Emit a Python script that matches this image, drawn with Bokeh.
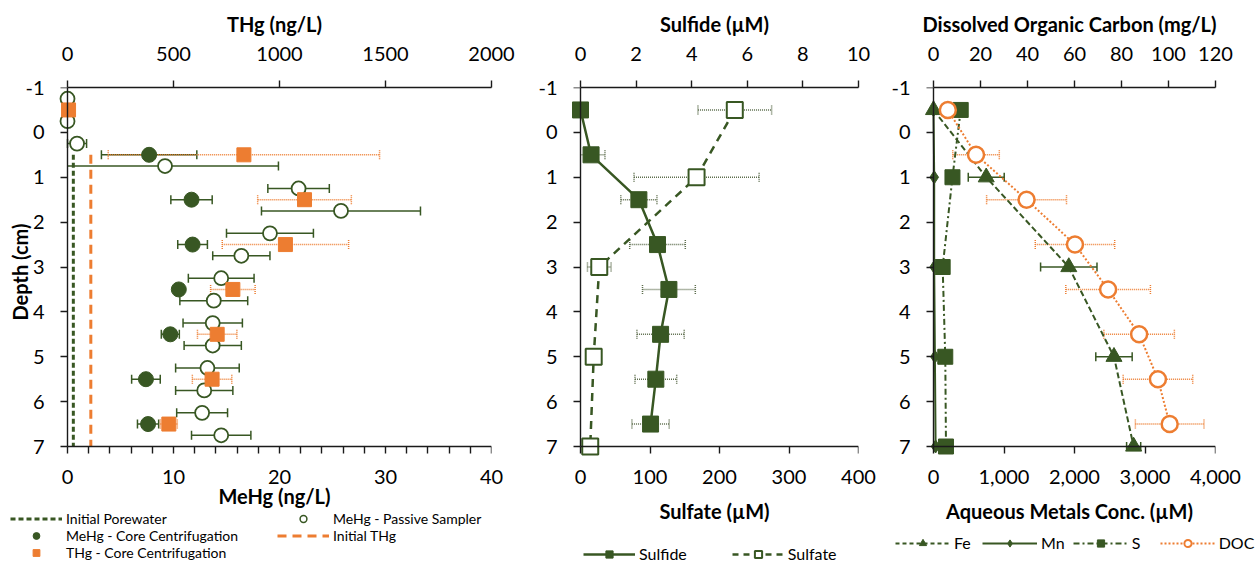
from bokeh.plotting import figure
from bokeh.models import (Range1d, LinearAxis, Whisker, ColumnDataSource, Legend, LegendItem,
                          FixedTicker, NumeralTickFormatter, TeeHead)
from bokeh.layouts import row, column
from bokeh.embed import file_html
from bokeh.resources import INLINE

# ---------------- data ----------------
depth_ticks = [-1, 0, 1, 2, 3, 4, 5, 6, 7]

# Panel 1: mercury
mehg_ticks = [0, 10, 20, 30, 40]
mehg_minor = [2, 4, 6, 8, 12, 14, 16, 18, 22, 24, 26, 28, 32, 34, 36, 38]
thg_ticks = [0, 500, 1000, 1500, 2000]

passive_depth = [-0.75, -0.25, 0.25, 0.75, 1.25, 1.75, 2.25, 2.75, 3.25, 3.75, 4.25, 4.75, 5.25, 5.75, 6.25, 6.75]
passive_mehg = [0.0, 0.0, 0.9, 9.2, 21.8, 25.8, 19.1, 16.4, 14.5, 13.8, 13.7, 13.7, 13.2, 12.9, 12.7, 14.5]
passive_err = [0.0, 0.0, 0.9, 10.7, 2.9, 7.5, 4.1, 2.7, 3.1, 3.2, 2.8, 2.7, 3.0, 2.7, 2.4, 2.8]

core_depth = [0.5, 1.5, 2.5, 3.5, 4.5, 5.5, 6.5]
core_mehg = [7.7, 11.7, 11.8, 10.5, 9.7, 7.4, 7.6]
core_mehg_err = [4.5, 1.95, 1.4, 0.3, 0.85, 1.35, 1.0]

thg_depth = [-0.5, 0.5, 1.5, 2.5, 3.5, 4.5, 5.5, 6.5]
thg_core = [5, 832, 1118, 1028, 780, 706, 682, 478]
thg_err = [0, 640, 221, 298, 105, 93, 93, 40]

initial_depth = [0.5, 7.0]
initial_porewater_mehg = 0.55
initial_thg = 110

# Panel 2: sulfur species
sulfide_ticks = [0, 2, 4, 6, 8, 10]
sulfate_ticks = [0, 100, 200, 300, 400]
sulfide_depth = [-0.5, 0.5, 1.5, 2.5, 3.5, 4.5, 5.5, 6.5]
sulfide = [0.0, 0.38, 2.1, 2.77, 3.18, 2.88, 2.71, 2.52]
sulfide_err = [0.0, 0.5, 0.65, 1.0, 0.95, 0.85, 0.75, 0.67]
sulfate_depth = [-0.5, 1.0, 3.0, 5.0, 7.0]
sulfate = [222, 167, 27, 19, 14]
sulfate_err = [53, 90, 17, 0, 0]

# Panel 3: metals and DOC
metal_ticks = [0, 1000, 2000, 3000, 4000]
doc_ticks = [0, 20, 40, 60, 80, 100, 120]
metal_depth = [-0.5, 1.0, 3.0, 5.0, 7.0]
fe = [0, 748, 1919, 2560, 2839]
fe_err = [0, 255, 400, 258, 100]
mn = [0, 10, 10, 20, 30]
s_conc = [386, 269, 130, 167, 177]
doc_depth = [-0.5, 0.5, 1.5, 2.5, 3.5, 4.5, 5.5, 6.5]
doc = [6.1, 18.1, 39.6, 60.2, 74.3, 87.5, 95.5, 100.5]
doc_err = [0, 9.9, 17.0, 16.9, 18.0, 15.0, 14.8, 14.6]

# ---------------- style ----------------
FONT = "Lato"
GREEN = "#385723"
ORANGE = "#ED7D31"
EBAR = "#5E6E4E"
AX = "#1a1a1a"
PAD = 10          # px of frame outside the axes so edge markers are not clipped
AXIS_H = 359      # px from depth -1 to depth 7


def line_axis(ax):
    ax.axis_line_color = AX
    ax.axis_line_width = 1.4
    ax.major_tick_line_color = AX
    ax.major_tick_line_width = 1.4
    ax.major_tick_out = 7
    ax.major_tick_in = 0
    ax.minor_tick_line_color = None
    ax.major_label_text_color = None


def label_axis(ax, label_standoff, title=None, title_standoff=0, with_line=False):
    if with_line:
        ax.axis_line_color = AX
        ax.axis_line_width = 1.4
        ax.major_tick_line_color = AX
        ax.major_tick_line_width = 1.4
        ax.major_tick_out = 7
    else:
        ax.axis_line_color = None
        ax.major_tick_line_color = None
        ax.major_tick_out = 0
    ax.major_tick_in = 0
    ax.minor_tick_line_color = None
    ax.minor_tick_out = 0
    ax.minor_tick_in = 0
    ax.major_label_text_font = FONT
    ax.major_label_text_font_size = "20px"
    ax.major_label_text_color = "#000000"
    ax.major_label_standoff = label_standoff
    if title:
        ax.axis_label = title
        ax.axis_label_text_font = FONT
        ax.axis_label_text_font_size = "20px"
        ax.axis_label_text_font_style = "bold"
        ax.axis_label_text_color = "#000000"
        ax.axis_label_standoff = title_standoff


def make_panel(ml, mr, axis_w, x_end, top_name, top_end):
    dx = x_end * PAD / axis_w
    dxt = top_end * PAD / axis_w
    p = figure(frame_width=axis_w + PAD, frame_height=AXIS_H + PAD,
               x_range=Range1d(-dx, x_end), y_range=Range1d(7 + 8 * PAD / AXIS_H, -1),
               x_axis_location=None, y_axis_location=None,
               output_backend="svg", toolbar_location=None,
               min_border_left=ml, min_border_right=mr, min_border_top=87, min_border_bottom=0)
    p.extra_x_ranges = {top_name: Range1d(-dxt, top_end)}
    p.outline_line_color = None
    p.grid.visible = False
    p.background_fill_color = "white"
    p.border_fill_color = "white"
    return p


def add_axes(p, x_end, bottom_ticks, bottom_title, top_name, top_end, top_ticks, top_title,
             y_title=None, minor=None, fmt=None, bottom_title_standoff=12):
    # drawn axis lines + ticks at x=0 and depth=7
    bl = LinearAxis(ticker=FixedTicker(ticks=bottom_ticks, minor_ticks=minor or []),
                    fixed_location=7, bounds=(0, x_end))
    line_axis(bl)
    if minor:
        bl.minor_tick_line_color = AX
        bl.minor_tick_line_width = 1.4
        bl.minor_tick_out = 7
        bl.minor_tick_in = 0
    p.add_layout(bl, "below")
    ll = LinearAxis(ticker=FixedTicker(ticks=depth_ticks), fixed_location=0, bounds=(-1, 7))
    line_axis(ll)
    p.add_layout(ll, "left")
    # tick labels + titles
    b = LinearAxis(ticker=FixedTicker(ticks=bottom_ticks))
    label_axis(b, 13, bottom_title, bottom_title_standoff)
    if fmt:
        b.formatter = NumeralTickFormatter(format=fmt)
    p.add_layout(b, "below")
    t = LinearAxis(x_range_name=top_name, ticker=FixedTicker(ticks=top_ticks), bounds=(0, top_end))
    label_axis(t, 20, top_title, 8, with_line=True)
    p.add_layout(t, "above")
    l = LinearAxis(ticker=FixedTicker(ticks=depth_ticks))
    label_axis(l, 13, y_title, -10)
    l.major_label_overrides = {d: str(d) for d in depth_ticks}
    p.add_layout(l, "left")


def add_whisker(p, base, vals, errs, color, dash="solid", width=1.5, range_name="default", head=9):
    groups = {True: ([], [], []), False: ([], [], [])}
    for d, v, e in zip(base, vals, errs):
        if e <= 0:
            continue
        full = (v - e) >= 0
        g = groups[full]
        g[0].append(d)
        g[1].append(max(0.0, v - e))
        g[2].append(v + e)
    for full, (bb, lo, up) in groups.items():
        if not bb:
            continue
        src = ColumnDataSource(dict(base=bb, lower=lo, upper=up))
        w = Whisker(source=src, base="base", lower="lower", upper="upper", dimension="width",
                    level="underlay", line_color=color, line_width=width, line_dash=dash,
                    x_range_name=range_name)
        w.upper_head = TeeHead(size=head, line_color=color, line_width=width, line_dash=dash)
        w.lower_head = TeeHead(size=head, line_color=color, line_width=width, line_dash=dash) if full else None
        p.add_layout(w)


def legend_fig(width, height, left, top):
    # a strip that only holds a legend; its data ranges keep the key glyphs' data out of view
    f = figure(width=width, height=height, x_range=Range1d(-1e6, -1e6 + 1), y_range=Range1d(-1e6, -1e6 + 1),
               x_axis_location=None, y_axis_location=None, output_backend="svg",
               toolbar_location=None, min_border_left=left, min_border_top=top,
               min_border_right=0, min_border_bottom=0)
    f.outline_line_color = None
    f.grid.visible = False
    return f


def make_legend(items, font="16px", row_h=18, ncols=None, glyph_w=52, standoff=4, spacing=10,
                label_w=20):
    kw = dict(items=items, location="top_left", orientation="horizontal",
              background_fill_alpha=0, border_line_color=None, padding=0, margin=0,
              spacing=spacing, label_text_font=FONT, label_text_font_size=font,
              label_text_color="#000000", glyph_width=glyph_w, glyph_height=row_h,
              label_height=row_h, label_standoff=standoff, label_width=label_w)
    if ncols:
        kw["ncols"] = ncols
    return Legend(**kw)


# ---------------- panel 1 ----------------
p1 = make_panel(57, 34, 424, 40, "thg", 2000)
add_axes(p1, 40, mehg_ticks, "MeHg (ng/L)", "thg", 2000, thg_ticks, "THg (ng/L)",
         y_title="Depth (cm)", minor=mehg_minor, bottom_title_standoff=-3)

add_whisker(p1, passive_depth, passive_mehg, passive_err, GREEN, width=1.5)
add_whisker(p1, core_depth, core_mehg, core_mehg_err, GREEN, width=1.5)
add_whisker(p1, thg_depth, thg_core, thg_err, ORANGE, dash="1 1", width=1.5, range_name="thg")

p1.line(x=[initial_porewater_mehg] * len(initial_depth), y=initial_depth,
        line_color=GREEN, line_width=3, line_dash="5 3")
p1.line(x=[initial_thg] * len(initial_depth), y=initial_depth, x_range_name="thg",
        line_color=ORANGE, line_width=3, line_dash="9 6")
p1.scatter(x=passive_mehg, y=passive_depth, marker="circle", size=14,
           fill_color="white", line_color=GREEN, line_width=1.8)
p1.scatter(x=core_mehg, y=core_depth, marker="circle", size=15, fill_color=GREEN, line_color=GREEN)
p1.scatter(x=thg_core, y=thg_depth, marker="square", size=14, x_range_name="thg",
           fill_color=ORANGE, line_color=ORANGE)

lf1 = legend_fig(525, 52, 10, 0)
k_ip = lf1.line(x=[initial_porewater_mehg] * len(initial_depth), y=initial_depth,
                line_color=GREEN, line_width=3, line_dash="5 3")
k_pass = lf1.scatter(x=passive_mehg, y=passive_depth, marker="circle", fill_color="white",
                     line_color=GREEN, line_width=1.5)
k_core = lf1.scatter(x=core_mehg, y=core_depth, marker="circle", fill_color=GREEN, line_color=GREEN)
k_ithg = lf1.line(x=[initial_thg] * len(initial_depth), y=initial_depth,
                  line_color=ORANGE, line_width=3, line_dash="9 6")
k_thg = lf1.scatter(x=thg_core, y=thg_depth, marker="square", fill_color=ORANGE, line_color=ORANGE)
lf1.add_layout(make_legend([LegendItem(label="Initial Porewater", renderers=[k_ip]),
                            LegendItem(label="MeHg - Passive Sampler", renderers=[k_pass]),
                            LegendItem(label="MeHg - Core Centrifugation", renderers=[k_core]),
                            LegendItem(label="Initial THg", renderers=[k_ithg]),
                            LegendItem(label="THg - Core Centrifugation", renderers=[k_thg])],
                           font="14px", row_h=17, ncols=2, glyph_w=52, spacing=0, label_w=211))

# ---------------- panel 2 ----------------
p2 = make_panel(45, 30, 278, 400, "sulfide", 10)
add_axes(p2, 400, sulfate_ticks, "Sulfate (\u00b5M)", "sulfide", 10, sulfide_ticks, "Sulfide (\u00b5M)")

add_whisker(p2, sulfide_depth, sulfide, sulfide_err, EBAR, dash="1 1", width=1.5, range_name="sulfide")
add_whisker(p2, sulfate_depth, sulfate, sulfate_err, EBAR, dash="1 1", width=1.5)

p2.line(x=sulfide, y=sulfide_depth, x_range_name="sulfide", line_color=GREEN, line_width=2.5)
p2.scatter(x=sulfide, y=sulfide_depth, x_range_name="sulfide", marker="square", size=16,
           fill_color=GREEN, line_color=GREEN)
p2.line(x=sulfate, y=sulfate_depth, line_color=GREEN, line_width=2.5, line_dash="8 6")
p2.scatter(x=sulfate, y=sulfate_depth, marker="square", size=16,
           fill_color="white", line_color=GREEN, line_width=2)

lf2 = legend_fig(363, 37, 58, 19)
k_sfd_l = lf2.line(x=sulfide, y=sulfide_depth, line_color=GREEN, line_width=2.5)
k_sfd_s = lf2.scatter(x=sulfide, y=sulfide_depth, marker="square", fill_color=GREEN, line_color=GREEN)
k_sft_l = lf2.line(x=sulfate, y=sulfate_depth, line_color=GREEN, line_width=2.5, line_dash="6 5")
k_sft_s = lf2.scatter(x=sulfate, y=sulfate_depth, marker="square", fill_color="white",
                      line_color=GREEN, line_width=2)
lf2.add_layout(make_legend([LegendItem(label="Sulfide", renderers=[k_sfd_l, k_sfd_s]),
                            LegendItem(label="Sulfate", renderers=[k_sft_l, k_sft_s])],
                           glyph_w=52, standoff=4, spacing=45))

# ---------------- panel 3 ----------------
p3 = make_panel(34, 44, 282, 4000, "doc", 120)
add_axes(p3, 4000, metal_ticks, "Aqueous Metals Conc. (\u00b5M)", "doc", 120, doc_ticks,
         "Dissolved Organic Carbon (mg/L)", fmt="0,0")

add_whisker(p3, metal_depth, fe, fe_err, GREEN, width=1.5)
add_whisker(p3, doc_depth, doc, doc_err, ORANGE, dash="1 1", width=1.5, range_name="doc")

p3.line(x=fe, y=metal_depth, line_color=GREEN, line_width=2, line_dash="6 3")
p3.scatter(x=fe, y=metal_depth, marker="triangle", size=16, fill_color=GREEN, line_color=GREEN)
p3.line(x=mn, y=metal_depth, line_color=GREEN, line_width=2)
p3.scatter(x=mn, y=metal_depth, marker="diamond", size=13, fill_color=GREEN, line_color=GREEN)
p3.line(x=s_conc, y=metal_depth, line_color=GREEN, line_width=2, line_dash="6 3 2 3")
p3.scatter(x=s_conc, y=metal_depth, marker="square", size=15, fill_color=GREEN, line_color=GREEN)
p3.line(x=doc, y=doc_depth, x_range_name="doc", line_color=ORANGE, line_width=2, line_dash="2 2")
p3.scatter(x=doc, y=doc_depth, x_range_name="doc", marker="circle", size=16,
           fill_color="white", line_color=ORANGE, line_width=2.5)

lf3 = legend_fig(370, 37, 7, 8)
k_fe_l = lf3.line(x=fe, y=metal_depth, line_color=GREEN, line_width=2, line_dash="4 3")
k_fe_s = lf3.scatter(x=fe, y=metal_depth, marker="triangle", fill_color=GREEN, line_color=GREEN)
k_mn_l = lf3.line(x=mn, y=metal_depth, line_color=GREEN, line_width=2)
k_mn_s = lf3.scatter(x=mn, y=metal_depth, marker="diamond", fill_color=GREEN, line_color=GREEN)
k_s_l = lf3.line(x=s_conc, y=metal_depth, line_color=GREEN, line_width=2, line_dash="6 3 2 3")
k_s_s = lf3.scatter(x=s_conc, y=metal_depth, marker="square", fill_color=GREEN, line_color=GREEN)
k_doc_l = lf3.line(x=doc, y=doc_depth, line_color=ORANGE, line_width=2, line_dash="2 2")
k_doc_s = lf3.scatter(x=doc, y=doc_depth, marker="circle", fill_color="white",
                      line_color=ORANGE, line_width=2)
lf3.add_layout(make_legend([LegendItem(label="Fe", renderers=[k_fe_l, k_fe_s]),
                            LegendItem(label="Mn", renderers=[k_mn_l, k_mn_s]),
                            LegendItem(label="S", renderers=[k_s_l, k_s_s]),
                            LegendItem(label="DOC", renderers=[k_doc_l, k_doc_s])],
                           glyph_w=55, standoff=4, spacing=8))

layout = row(column(p1, row(lf1)), column(p2, row(lf2)), column(p3, row(lf3)))
open("out.html", "w").write(file_html(layout, INLINE))
